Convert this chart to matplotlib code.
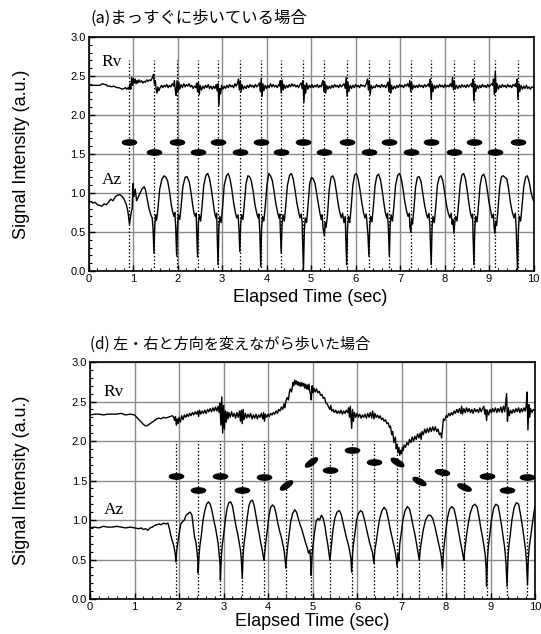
import numpy as np
import matplotlib
matplotlib.use("Agg")
import matplotlib.pyplot as plt
from matplotlib.markers import MarkerStyle
from matplotlib.transforms import Affine2D
from matplotlib.ticker import MultipleLocator, FormatStrFormatter

plt.rcParams['font.family'] = ['Liberation Sans', 'DejaVu Sans']

# ---- panel (a): straight walking ----
rv_a = [(0.00,2.38),(0.10,2.38),(0.20,2.38),(0.26,2.38),(0.28,2.39),(0.32,2.40),(0.36,2.39),(0.40,2.39),(0.42,2.37),(0.48,2.37),
        (0.52,2.36),(0.56,2.37),(0.60,2.36),(0.64,2.35),(0.68,2.35),(0.72,2.34),(0.76,2.33),(0.80,2.34),(0.83,2.35),(0.86,2.33),
        (0.89,2.35),(0.91,2.33),(0.93,2.40),(0.95,2.33),(0.97,2.48),(0.99,2.38),(1.01,2.47),(1.03,2.41),(1.05,2.46),(1.07,2.40),
        (1.09,2.44),(1.11,2.41),(1.13,2.45),(1.16,2.42),(1.19,2.44),(1.22,2.41),(1.25,2.43),(1.28,2.42),(1.31,2.45),(1.34,2.43),
        (1.37,2.45),(1.40,2.44),(1.43,2.47),(1.46,2.52),(1.48,2.40),(1.50,2.44),(1.52,2.33),(1.54,2.28),(1.56,2.36),(1.58,2.31),
        (1.61,2.35),(1.64,2.38),(1.67,2.35),(1.70,2.38),(1.73,2.36),(1.76,2.39),(1.79,2.35),(1.82,2.38),(1.85,2.36),(1.88,2.40),
        (1.91,2.37),(1.93,2.44),(1.95,2.32),(1.97,2.25),(1.99,2.44),(2.01,2.30),(2.03,2.42),(2.05,2.33),(2.08,2.39),(2.11,2.35),
        (2.14,2.40),(2.17,2.36),(2.20,2.39),(2.23,2.37),(2.26,2.40),(2.29,2.36),(2.32,2.38),(2.35,2.34),(2.38,2.37),(2.41,2.35),
        (2.43,2.41),(2.45,2.30),(2.47,2.42),(2.49,2.26),(2.51,2.38),(2.54,2.32),(2.57,2.37),(2.60,2.34),(2.63,2.38),(2.66,2.35),
        (2.69,2.39),(2.72,2.34),(2.75,2.37),(2.78,2.33),(2.81,2.37),(2.84,2.34),(2.87,2.39),(2.89,2.31),(2.91,2.40),(2.93,2.12),
        (2.95,2.34),(2.97,2.27),(2.99,2.38),(3.02,2.33),(3.05,2.37),(3.08,2.34),(3.11,2.38),(3.14,2.35),(3.17,2.39),(3.20,2.36),
        (3.23,2.38),(3.26,2.35),(3.29,2.40),(3.32,2.37),(3.35,2.41),(3.37,2.46),(3.39,2.32),(3.41,2.44),(3.43,2.30),(3.45,2.39),
        (3.48,2.33),(3.51,2.37),(3.54,2.34),(3.57,2.38),(3.60,2.35),(3.63,2.39),(3.66,2.36),(3.69,2.38),(3.72,2.35),(3.75,2.39),
        (3.78,2.36),(3.81,2.38),(3.84,2.41),(3.86,2.30),(3.88,2.46),(3.90,2.24),(3.92,2.40),(3.94,2.31),(3.97,2.38),(4.00,2.34),
        (4.03,2.38),(4.06,2.35),(4.09,2.40),(4.12,2.36),(4.15,2.39),(4.18,2.36),(4.21,2.38),(4.24,2.35),(4.27,2.39),(4.29,2.37),
        (4.31,2.44),(4.33,2.28),(4.35,2.45),(4.37,2.32),(4.39,2.39),(4.42,2.34),(4.45,2.38),(4.48,2.35),(4.51,2.39),(4.54,2.36),
        (4.57,2.40),(4.60,2.37),(4.63,2.39),(4.66,2.36),(4.69,2.38),(4.72,2.35),(4.75,2.39),(4.78,2.41),(4.80,2.34),(4.82,2.44),
        (4.84,2.16),(4.86,2.38),(4.88,2.28),(4.90,2.41),(4.93,2.33),(4.96,2.38),(4.99,2.35),(5.02,2.39),(5.05,2.35),(5.08,2.38),
        (5.11,2.36),(5.14,2.39),(5.17,2.35),(5.20,2.38),(5.23,2.36),(5.25,2.41),(5.27,2.44),(5.29,2.30),(5.31,2.42),(5.33,2.28),
        (5.35,2.38),(5.38,2.33),(5.41,2.37),(5.44,2.34),(5.47,2.38),(5.50,2.35),(5.53,2.39),(5.56,2.36),(5.59,2.38),(5.62,2.35),
        (5.65,2.39),(5.68,2.36),(5.71,2.38),(5.74,2.40),(5.77,2.34),(5.79,2.48),(5.81,2.24),(5.83,2.42),(5.85,2.30),(5.88,2.38),
        (5.91,2.34),(5.94,2.38),(5.97,2.35),(6.00,2.39),(6.03,2.36),(6.06,2.38),(6.09,2.35),(6.12,2.39),(6.15,2.37),(6.18,2.38),
        (6.21,2.36),(6.24,2.40),(6.27,2.46),(6.29,2.32),(6.31,2.44),(6.33,2.26),(6.35,2.38),(6.38,2.34),(6.41,2.37),(6.44,2.35),
        (6.47,2.39),(6.50,2.36),(6.53,2.38),(6.56,2.35),(6.59,2.39),(6.62,2.36),(6.65,2.38),(6.68,2.35),(6.71,2.39),(6.73,2.42),
        (6.75,2.30),(6.77,2.46),(6.79,2.28),(6.81,2.38),(6.84,2.33),(6.87,2.37),(6.90,2.34),(6.93,2.38),(6.96,2.35),(6.99,2.39),
        (7.02,2.36),(7.05,2.38),(7.08,2.35),(7.11,2.39),(7.14,2.37),(7.17,2.40),(7.20,2.36),(7.22,2.44),(7.24,2.30),(7.26,2.42),
        (7.28,2.33),(7.31,2.38),(7.34,2.35),(7.37,2.38),(7.40,2.35),(7.43,2.39),(7.46,2.36),(7.49,2.38),(7.52,2.35),(7.55,2.39),
        (7.58,2.36),(7.61,2.38),(7.64,2.40),(7.66,2.36),(7.68,2.46),(7.70,2.20),(7.72,2.40),(7.74,2.30),(7.77,2.38),(7.80,2.34),
        (7.83,2.38),(7.86,2.35),(7.89,2.39),(7.92,2.36),(7.95,2.38),(7.98,2.35),(8.01,2.39),(8.04,2.36),(8.07,2.38),(8.10,2.36),
        (8.13,2.40),(8.16,2.36),(8.18,2.48),(8.20,2.32),(8.22,2.44),(8.24,2.33),(8.27,2.38),(8.30,2.34),(8.33,2.38),(8.36,2.35),
        (8.39,2.39),(8.42,2.36),(8.45,2.38),(8.48,2.35),(8.51,2.39),(8.54,2.36),(8.57,2.38),(8.60,2.40),(8.62,2.36),(8.64,2.46),
        (8.66,2.18),(8.68,2.40),(8.70,2.30),(8.73,2.38),(8.76,2.34),(8.79,2.38),(8.82,2.35),(8.85,2.39),(8.88,2.36),(8.91,2.38),
        (8.94,2.35),(8.97,2.39),(9.00,2.36),(9.03,2.38),(9.06,2.40),(9.08,2.38),(9.10,2.46),(9.12,2.26),(9.14,2.56),(9.16,2.30),
        (9.18,2.40),(9.21,2.33),(9.24,2.38),(9.27,2.35),(9.30,2.39),(9.33,2.36),(9.36,2.38),(9.39,2.35),(9.42,2.39),(9.45,2.36),
        (9.48,2.38),(9.51,2.35),(9.54,2.39),(9.57,2.37),(9.59,2.40),(9.61,2.36),(9.63,2.46),(9.65,2.20),(9.67,2.40),(9.69,2.30),
        (9.72,2.38),(9.75,2.33),(9.78,2.37),(9.81,2.34),(9.84,2.38),(9.87,2.34),(9.90,2.36),(9.93,2.33),(9.96,2.36),(10.0,2.35)]

az_a = [(0.00,0.88),(0.05,0.89),(0.10,0.87),(0.15,0.88),(0.20,0.85),(0.25,0.84),(0.30,0.83),(0.35,0.86),(0.40,0.85),(0.45,0.88),
        (0.50,0.92),(0.55,0.90),(0.60,0.95),(0.65,0.97),(0.70,0.98),(0.75,0.96),(0.80,0.92),(0.85,0.85),(0.88,0.78),(0.90,0.70),
        (0.92,0.60),(0.94,0.68),(0.96,0.75),(0.98,0.80),(1.00,1.12),(1.02,0.95),(1.05,1.05),(1.08,0.90),(1.12,0.95),(1.16,1.00),
        (1.20,1.05),(1.25,1.08),(1.28,1.04),(1.32,0.92),(1.36,0.80),(1.40,0.72),(1.43,0.68),(1.45,0.55),(1.47,0.23),(1.49,0.60),
        (1.51,0.72),(1.53,0.65),(1.56,0.80),(1.60,1.05),(1.65,1.18),(1.70,1.22),(1.74,1.20),(1.78,1.15),(1.82,1.02),(1.86,0.85),
        (1.89,0.76),(1.92,0.70),(1.94,0.75),(1.96,0.55),(1.98,0.19),(2.00,0.58),(2.02,0.72),(2.05,0.66),(2.08,0.82),(2.12,1.08),
        (2.17,1.20),(2.21,1.21),(2.26,1.15),(2.30,1.02),(2.34,0.85),(2.37,0.74),(2.40,0.70),(2.42,0.74),(2.43,0.52),(2.45,0.18),
        (2.47,0.62),(2.49,0.72),(2.52,0.64),(2.55,0.82),(2.59,1.10),(2.64,1.23),(2.68,1.25),(2.72,1.18),(2.76,1.05),(2.80,0.88),
        (2.83,0.76),(2.86,0.68),(2.88,0.74),(2.89,0.50),(2.91,0.08),(2.93,0.55),(2.95,0.70),(2.98,0.62),(3.01,0.80),(3.05,1.10),
        (3.10,1.22),(3.14,1.25),(3.18,1.18),(3.22,1.05),(3.26,0.88),(3.30,0.75),(3.33,0.68),(3.36,0.72),(3.38,0.55),(3.40,0.25),
        (3.42,0.60),(3.44,0.72),(3.47,0.66),(3.50,0.85),(3.54,1.12),(3.58,1.22),(3.62,1.21),(3.66,1.15),(3.70,1.02),(3.74,0.85),
        (3.78,0.74),(3.81,0.68),(3.83,0.73),(3.85,0.48),(3.87,0.06),(3.89,0.55),(3.91,0.70),(3.94,0.64),(3.97,0.82),(4.01,1.10),
        (4.05,1.25),(4.09,1.22),(4.13,1.16),(4.17,1.02),(4.21,0.86),(4.25,0.75),(4.28,0.68),(4.30,0.73),(4.31,0.52),(4.33,0.23),
        (4.35,0.60),(4.37,0.72),(4.40,0.64),(4.43,0.82),(4.47,1.10),(4.52,1.23),(4.56,1.25),(4.60,1.18),(4.64,1.04),(4.68,0.88),
        (4.72,0.76),(4.75,0.68),(4.78,0.73),(4.80,0.62),(4.81,0.40),(4.83,0.02),(4.85,0.52),(4.87,0.68),(4.90,0.62),(4.93,0.82),
        (4.97,1.12),(5.01,1.20),(5.05,1.18),(5.09,1.12),(5.13,0.98),(5.17,0.84),(5.20,0.74),(5.23,0.66),(5.25,0.72),(5.27,0.55),
        (5.30,0.45),(5.32,0.62),(5.34,0.56),(5.37,0.72),(5.41,1.05),(5.45,1.20),(5.49,1.22),(5.53,1.16),(5.57,1.02),(5.61,0.86),
        (5.65,0.74),(5.68,0.68),(5.71,0.74),(5.74,0.62),(5.77,0.70),(5.78,0.45),(5.80,0.08),(5.82,0.55),(5.84,0.70),(5.87,0.62),
        (5.90,0.80),(5.94,1.10),(5.98,1.23),(6.02,1.25),(6.06,1.18),(6.10,1.04),(6.14,0.88),(6.18,0.75),(6.21,0.68),(6.24,0.73),
        (6.26,0.60),(6.28,0.45),(6.30,0.19),(6.32,0.58),(6.34,0.70),(6.37,0.63),(6.40,0.82),(6.44,1.10),(6.48,1.22),(6.52,1.24),
        (6.56,1.17),(6.60,1.03),(6.64,0.86),(6.67,0.75),(6.70,0.68),(6.72,0.74),(6.74,0.52),(6.76,0.19),(6.78,0.60),(6.80,0.72),
        (6.83,0.64),(6.86,0.82),(6.90,1.10),(6.95,1.23),(6.99,1.25),(7.03,1.18),(7.07,1.04),(7.11,0.88),(7.15,0.76),(7.18,0.70),
        (7.21,0.74),(7.22,0.58),(7.24,0.50),(7.26,0.66),(7.28,0.60),(7.31,0.78),(7.35,1.08),(7.39,1.20),(7.43,1.21),(7.47,1.15),
        (7.51,1.00),(7.55,0.85),(7.59,0.74),(7.62,0.68),(7.65,0.74),(7.67,0.60),(7.68,0.40),(7.70,0.08),(7.72,0.55),(7.74,0.70),
        (7.77,0.62),(7.80,0.80),(7.84,1.10),(7.88,1.20),(7.92,1.22),(7.96,1.16),(8.00,1.02),(8.04,0.86),(8.08,0.75),(8.12,0.68),
        (8.15,0.74),(8.17,0.60),(8.19,0.66),(8.21,0.48),(8.23,0.62),(8.25,0.70),(8.28,0.64),(8.31,0.82),(8.35,1.10),(8.39,1.23),
        (8.43,1.25),(8.47,1.18),(8.51,1.03),(8.55,0.86),(8.58,0.75),(8.61,0.68),(8.63,0.73),(8.64,0.48),(8.66,0.08),(8.68,0.55),
        (8.70,0.70),(8.73,0.63),(8.76,0.82),(8.80,1.10),(8.84,1.22),(8.88,1.24),(8.92,1.18),(8.96,1.04),(9.00,0.88),(9.04,0.76),
        (9.07,0.68),(9.10,0.73),(9.11,0.58),(9.13,0.48),(9.15,0.64),(9.17,0.58),(9.20,0.78),(9.24,1.08),(9.28,1.21),(9.32,1.22),
        (9.36,1.20),(9.40,1.18),(9.44,1.05),(9.48,0.88),(9.52,0.76),(9.56,0.68),(9.59,0.74),(9.61,0.55),(9.62,0.35),(9.64,0.02),
        (9.66,0.52),(9.68,0.70),(9.71,0.64),(9.74,0.82),(9.78,1.08),(9.82,1.20),(9.86,1.22),(9.90,1.15),(9.94,1.02),(9.97,0.95),
        (10.0,0.90)]

steps_a = [0.92, 1.47, 1.98, 2.45, 2.91, 3.40, 3.87, 4.33, 4.83, 5.30,
           5.80, 6.30, 6.76, 7.24, 7.70, 8.21, 8.66, 9.13, 9.64]
foot_a_y = [1.65, 1.52, 1.65, 1.52, 1.65, 1.52, 1.65, 1.52, 1.65, 1.52,
            1.65, 1.52, 1.65, 1.52, 1.65, 1.52, 1.65, 1.52, 1.65]
foot_a_angle = [0] * 19

# ---- panel (d): walking while turning left / right ----
rv_d = [(0.00,2.33),(0.10,2.34),(0.20,2.34),(0.30,2.33),(0.40,2.34),(0.50,2.34),(0.60,2.34),(0.70,2.35),(0.80,2.33),(0.90,2.34),
        (1.00,2.33),(1.05,2.30),(1.10,2.27),(1.15,2.24),(1.20,2.21),(1.25,2.19),(1.30,2.20),(1.35,2.22),(1.40,2.24),(1.45,2.26),
        (1.50,2.28),(1.55,2.29),(1.60,2.28),(1.65,2.30),(1.70,2.29),(1.75,2.30),(1.80,2.31),(1.85,2.32),(1.88,2.30),(1.90,2.26),
        (1.92,2.31),(1.94,2.20),(1.96,2.28),(1.98,2.22),(2.00,2.30),(2.03,2.24),(2.06,2.32),(2.09,2.27),(2.12,2.33),(2.15,2.30),
        (2.18,2.34),(2.21,2.31),(2.24,2.35),(2.27,2.32),(2.30,2.36),(2.33,2.33),(2.36,2.37),(2.39,2.34),(2.42,2.38),(2.44,2.31),
        (2.46,2.39),(2.49,2.34),(2.52,2.38),(2.55,2.35),(2.58,2.39),(2.61,2.35),(2.64,2.40),(2.67,2.37),(2.70,2.41),(2.73,2.37),
        (2.76,2.42),(2.79,2.38),(2.82,2.43),(2.85,2.38),(2.88,2.44),(2.90,2.36),(2.92,2.48),(2.94,2.20),(2.96,2.56),(2.98,2.10),
        (3.00,2.45),(3.02,2.15),(3.04,2.38),(3.06,2.24),(3.08,2.37),(3.10,2.28),(3.12,2.36),(3.15,2.30),(3.18,2.37),(3.21,2.31),
        (3.24,2.35),(3.27,2.29),(3.30,2.36),(3.33,2.30),(3.36,2.38),(3.38,2.25),(3.40,2.39),(3.42,2.22),(3.44,2.40),(3.46,2.27),
        (3.49,2.35),(3.52,2.29),(3.55,2.34),(3.58,2.30),(3.61,2.35),(3.64,2.28),(3.67,2.33),(3.70,2.29),(3.73,2.34),(3.76,2.28),
        (3.79,2.33),(3.82,2.30),(3.85,2.35),(3.88,2.28),(3.90,2.36),(3.92,2.25),(3.94,2.34),(3.97,2.30),(4.00,2.34),(4.03,2.31),
        (4.06,2.35),(4.09,2.33),(4.12,2.36),(4.15,2.34),(4.18,2.38),(4.21,2.35),(4.24,2.40),(4.27,2.38),(4.30,2.43),(4.33,2.40),
        (4.36,2.47),(4.38,2.42),(4.40,2.50),(4.43,2.55),(4.46,2.52),(4.48,2.62),(4.50,2.66),(4.53,2.62),(4.56,2.74),(4.58,2.70),
        (4.60,2.77),(4.62,2.72),(4.64,2.76),(4.66,2.71),(4.68,2.75),(4.70,2.70),(4.72,2.74),(4.74,2.69),(4.76,2.74),(4.78,2.70),
        (4.80,2.73),(4.82,2.67),(4.84,2.72),(4.86,2.66),(4.88,2.71),(4.90,2.65),(4.92,2.72),(4.94,2.62),(4.96,2.58),(4.97,2.52),
        (4.99,2.70),(5.01,2.61),(5.03,2.67),(5.06,2.62),(5.09,2.66),(5.12,2.61),(5.15,2.63),(5.18,2.58),(5.21,2.59),(5.24,2.54),
        (5.27,2.55),(5.30,2.48),(5.33,2.47),(5.36,2.43),(5.39,2.40),(5.41,2.45),(5.43,2.38),(5.46,2.40),(5.49,2.36),(5.52,2.39),
        (5.55,2.35),(5.58,2.38),(5.61,2.35),(5.64,2.39),(5.67,2.34),(5.70,2.38),(5.73,2.35),(5.76,2.39),(5.79,2.36),(5.81,2.42),
        (5.83,2.30),(5.85,2.44),(5.87,2.26),(5.88,2.16),(5.90,2.40),(5.92,2.25),(5.94,2.36),(5.97,2.30),(6.00,2.35),(6.03,2.30),
        (6.06,2.34),(6.09,2.29),(6.12,2.33),(6.15,2.30),(6.18,2.34),(6.21,2.29),(6.24,2.35),(6.27,2.30),(6.30,2.36),(6.33,2.29),
        (6.35,2.38),(6.38,2.28),(6.40,2.35),(6.43,2.30),(6.46,2.33),(6.49,2.29),(6.52,2.32),(6.55,2.27),(6.58,2.29),(6.61,2.25),
        (6.64,2.27),(6.67,2.22),(6.70,2.23),(6.73,2.17),(6.75,2.19),(6.78,2.08),(6.80,2.12),(6.83,1.98),(6.86,2.05),(6.88,1.90),
        (6.90,1.96),(6.92,1.85),(6.94,1.92),(6.96,1.82),(6.98,1.88),(7.00,1.84),(7.02,1.92),(7.04,1.88),(7.06,1.95),(7.09,1.92),
        (7.12,1.98),(7.15,1.95),(7.18,2.02),(7.21,1.98),(7.24,2.05),(7.27,2.00),(7.30,2.06),(7.33,2.02),(7.36,2.09),(7.39,2.04),
        (7.42,2.10),(7.44,2.02),(7.46,2.12),(7.49,2.08),(7.52,2.15),(7.55,2.10),(7.58,2.16),(7.61,2.11),(7.64,2.17),(7.67,2.12),
        (7.70,2.18),(7.73,2.13),(7.76,2.18),(7.79,2.12),(7.82,2.15),(7.85,2.08),(7.88,2.10),(7.90,2.04),(7.92,2.15),(7.94,2.28),
        (7.97,2.26),(8.00,2.32),(8.03,2.30),(8.06,2.35),(8.09,2.32),(8.12,2.36),(8.15,2.33),(8.18,2.38),(8.21,2.35),(8.24,2.40),
        (8.27,2.36),(8.30,2.41),(8.33,2.35),(8.35,2.44),(8.37,2.34),(8.40,2.41),(8.43,2.36),(8.46,2.42),(8.49,2.37),(8.52,2.41),
        (8.55,2.36),(8.58,2.40),(8.61,2.35),(8.64,2.41),(8.67,2.37),(8.70,2.40),(8.73,2.36),(8.76,2.42),(8.79,2.37),(8.82,2.41),
        (8.85,2.44),(8.87,2.34),(8.89,2.40),(8.91,2.26),(8.93,2.39),(8.96,2.33),(8.99,2.40),(9.02,2.36),(9.05,2.41),(9.08,2.37),
        (9.11,2.42),(9.14,2.36),(9.17,2.41),(9.20,2.37),(9.23,2.43),(9.26,2.36),(9.29,2.44),(9.32,2.37),(9.34,2.48),(9.36,2.60),
        (9.38,2.25),(9.40,2.42),(9.42,2.32),(9.45,2.39),(9.48,2.35),(9.51,2.40),(9.54,2.36),(9.57,2.41),(9.60,2.37),(9.63,2.42),
        (9.66,2.36),(9.69,2.41),(9.72,2.37),(9.75,2.42),(9.78,2.38),(9.80,2.44),(9.82,2.62),(9.84,2.14),(9.86,2.46),(9.88,2.30),
        (9.90,2.41),(9.93,2.36),(9.96,2.40),(10.0,2.38)]

az_d = [(0.00,0.90),(0.10,0.91),(0.20,0.90),(0.30,0.92),(0.40,0.91),(0.50,0.91),(0.60,0.92),(0.70,0.91),(0.80,0.90),(0.90,0.91),
        (1.00,0.90),(1.10,0.89),(1.15,0.90),(1.20,0.88),(1.25,0.89),(1.30,0.87),(1.35,0.90),(1.40,0.91),(1.45,0.93),(1.50,0.94),
        (1.55,0.95),(1.60,0.94),(1.65,0.96),(1.70,0.95),(1.75,0.96),(1.78,0.90),(1.81,0.82),(1.84,0.75),(1.87,0.70),(1.90,0.62),
        (1.92,0.55),(1.93,0.47),(1.95,0.62),(1.97,0.70),(2.00,0.82),(2.04,0.95),(2.08,0.98),(2.12,1.00),(2.16,1.06),(2.20,1.08),
        (2.25,1.10),(2.29,1.06),(2.32,0.92),(2.35,0.78),(2.38,0.72),(2.40,0.62),(2.42,0.50),(2.43,0.33),(2.45,0.55),(2.47,0.68),
        (2.50,0.80),(2.54,1.00),(2.58,1.12),(2.62,1.20),(2.66,1.23),(2.70,1.20),(2.74,1.12),(2.78,1.00),(2.82,0.90),(2.85,0.80),
        (2.88,0.70),(2.90,0.58),(2.92,0.45),(2.93,0.24),(2.95,0.52),(2.97,0.68),(3.00,0.80),(3.04,1.00),(3.08,1.15),(3.12,1.22),
        (3.16,1.23),(3.20,1.18),(3.24,1.05),(3.28,0.92),(3.32,0.82),(3.35,0.72),(3.38,0.62),(3.40,0.50),(3.42,0.26),(3.44,0.55),
        (3.46,0.70),(3.49,0.82),(3.53,1.02),(3.57,1.18),(3.61,1.24),(3.65,1.25),(3.69,1.18),(3.73,1.05),(3.77,0.92),(3.81,0.80),
        (3.84,0.70),(3.87,0.62),(3.89,0.55),(3.91,0.49),(3.93,0.60),(3.95,0.72),(3.98,0.85),(4.02,1.05),(4.06,1.16),(4.10,1.19),
        (4.14,1.17),(4.18,1.08),(4.22,0.96),(4.26,0.86),(4.30,0.78),(4.33,0.70),(4.36,0.62),(4.38,0.52),(4.40,0.39),(4.42,0.55),
        (4.44,0.66),(4.47,0.80),(4.51,0.98),(4.55,1.08),(4.60,1.13),(4.64,1.10),(4.68,1.02),(4.72,0.94),(4.76,0.88),(4.80,0.80),
        (4.84,0.72),(4.88,0.65),(4.91,0.58),(4.94,0.62),(4.96,0.45),(4.97,0.30),(4.99,0.55),(5.01,0.68),(5.04,0.82),(5.08,0.98),
        (5.12,1.02),(5.16,1.00),(5.20,1.06),(5.24,1.02),(5.28,0.92),(5.31,0.80),(5.34,0.70),(5.36,0.62),(5.38,0.55),(5.39,0.49),
        (5.41,0.60),(5.43,0.72),(5.46,0.88),(5.50,1.02),(5.55,1.10),(5.60,1.12),(5.64,1.08),(5.68,0.98),(5.72,0.88),(5.76,0.78),
        (5.80,0.70),(5.83,0.62),(5.86,0.52),(5.88,0.34),(5.90,0.58),(5.92,0.70),(5.95,0.82),(5.99,1.00),(6.03,1.08),(6.08,1.12),
        (6.12,1.10),(6.16,1.02),(6.20,0.92),(6.24,0.82),(6.28,0.72),(6.32,0.64),(6.35,0.58),(6.38,0.45),(6.40,0.62),(6.43,0.72),
        (6.47,0.88),(6.51,1.02),(6.56,1.12),(6.61,1.16),(6.66,1.12),(6.70,1.02),(6.74,0.90),(6.78,0.80),(6.82,0.70),(6.85,0.62),
        (6.88,0.52),(6.90,0.41),(6.92,0.58),(6.94,0.48),(6.96,0.70),(6.99,0.82),(7.03,1.00),(7.08,1.12),(7.13,1.17),(7.18,1.14),
        (7.22,1.04),(7.26,0.92),(7.30,0.82),(7.33,0.72),(7.36,0.62),(7.38,0.55),(7.40,0.49),(7.42,0.62),(7.45,0.74),(7.49,0.88),
        (7.54,1.00),(7.60,1.06),(7.65,1.06),(7.70,1.02),(7.74,0.94),(7.78,0.84),(7.82,0.74),(7.85,0.66),(7.88,0.58),(7.90,0.50),
        (7.92,0.37),(7.94,0.58),(7.96,0.70),(7.99,0.84),(8.03,1.02),(8.08,1.14),(8.13,1.17),(8.18,1.14),(8.22,1.04),(8.26,0.92),
        (8.30,0.80),(8.33,0.70),(8.36,0.62),(8.38,0.55),(8.40,0.49),(8.42,0.62),(8.45,0.76),(8.49,0.92),(8.54,1.08),(8.60,1.18),
        (8.65,1.20),(8.70,1.16),(8.74,1.04),(8.78,0.90),(8.82,0.78),(8.85,0.68),(8.88,0.56),(8.90,0.40),(8.91,0.16),(8.93,0.50),
        (8.95,0.66),(8.98,0.80),(9.02,1.00),(9.07,1.15),(9.12,1.20),(9.17,1.18),(9.21,1.06),(9.25,0.92),(9.28,0.80),(9.31,0.68),
        (9.33,0.58),(9.35,0.42),(9.37,0.16),(9.39,0.50),(9.41,0.66),(9.44,0.80),(9.48,1.00),(9.53,1.16),(9.58,1.22),(9.63,1.20),
        (9.67,1.08),(9.71,0.94),(9.74,0.82),(9.77,0.70),(9.79,0.60),(9.81,0.45),(9.83,0.18),(9.85,0.52),(9.87,0.66),(9.90,0.78),
        (9.94,0.95),(9.97,1.08),(10.0,1.17)]

steps_d = [1.93, 2.43, 2.93, 3.42, 3.91, 4.40, 4.97, 5.39, 5.88, 6.38,
           6.90, 7.40, 7.92, 8.40, 8.91, 9.37, 9.83]
foot_d_y = [1.56, 1.38, 1.56, 1.38, 1.55, 1.44, 1.73, 1.63, 1.89, 1.73,
            1.73, 1.49, 1.61, 1.42, 1.56, 1.38, 1.55]
foot_d_angle = [0, 0, 0, 0, 0, 35, 35, 0, 0, 0,
                -30, -28, -10, -22, 0, 0, 0]

titles = ["(a)まっすぐに歩いている場合", "(d) 左・右と方向を変えながら歩いた場合"]
xlabel = "Elapsed Time (sec)"
ylabel = "Signal Intensity (a.u.)"

fig = plt.figure(figsize=(5.41, 6.34), dpi=100)
ax_a = fig.add_axes([0.1636, 0.5726, 0.8226, 0.3691])
ax_d = fig.add_axes([0.1664, 0.0552, 0.8226, 0.3738])

panels = [
    (ax_a, rv_a, az_a, steps_a, foot_a_y, foot_a_angle, 2.70, (0.30, 2.68), (0.30, 1.17)),
    (ax_d, rv_d, az_d, steps_d, foot_d_y, foot_d_angle, 2.00, (0.30, 2.62), (0.30, 1.13)),
]

for ax, rv, az, steps, fy, fang, vtop, rv_pos, az_pos in panels:
    rv = np.array(rv)
    az = np.array(az)
    ax.plot(rv[:, 0], rv[:, 1], color='black', lw=1.0, zorder=3)
    ax.plot(az[:, 0], az[:, 1], color='black', lw=1.0, zorder=3)
    ax.vlines(steps, 0, vtop, colors='black', linestyles=(0, (1.2, 1.6)), lw=0.9, zorder=2)
    # foot contact marks (filled ellipses, some tilted)
    for x, y, a in zip(steps, fy, fang):
        m = MarkerStyle('o', transform=Affine2D().scale(2.7, 1.0).rotate_deg(a))
        ax.plot([x], [y], marker=m, ms=3.8, color='black', mec='black', zorder=4)
    ax.text(rv_pos[0], rv_pos[1], "Rv", family='Liberation Serif', fontsize=12.5, va='center')
    ax.text(az_pos[0], az_pos[1], "Az", family='Liberation Serif', fontsize=12.5, va='center')

    ax.set_xlim(0, 10)
    ax.set_ylim(0, 3)
    ax.xaxis.set_major_locator(MultipleLocator(1))
    ax.xaxis.set_minor_locator(MultipleLocator(0.2))
    ax.yaxis.set_major_locator(MultipleLocator(0.5))
    ax.yaxis.set_minor_locator(MultipleLocator(0.1))
    ax.yaxis.set_major_formatter(FormatStrFormatter('%.1f'))
    ax.tick_params(which='both', direction='in', top=False, right=False, labelsize=8, pad=2)
    ax.tick_params(which='major', length=4, width=1.0)
    ax.tick_params(which='minor', length=2.5, width=0.8)
    ax.grid(True, which='major', color='#8a8a8a', lw=1.0)
    ax.set_axisbelow(True)
    for s in ax.spines.values():
        s.set_linewidth(1.2)

cjk = ['Noto Sans CJK JP', 'DejaVu Sans']
fig.text(90 / 541, 1 - 18 / 634, titles[0], fontsize=11.8, va='center', family=cjk)
fig.text(90 / 541, 1 - 344 / 634, titles[1], fontsize=10.9, va='center', family=cjk)
fig.text(310 / 541, 1 - 297 / 634, xlabel, fontsize=13, ha='center', va='center')
fig.text(312 / 541, 1 - 622 / 634, xlabel, fontsize=13, ha='center', va='center')
fig.text(22 / 541, 1 - 154 / 634, ylabel, fontsize=13, ha='center', va='center', rotation=90)
fig.text(22 / 541, 1 - 480 / 634, ylabel, fontsize=13, ha='center', va='center', rotation=90)

fig.savefig("out.png", dpi=100)
